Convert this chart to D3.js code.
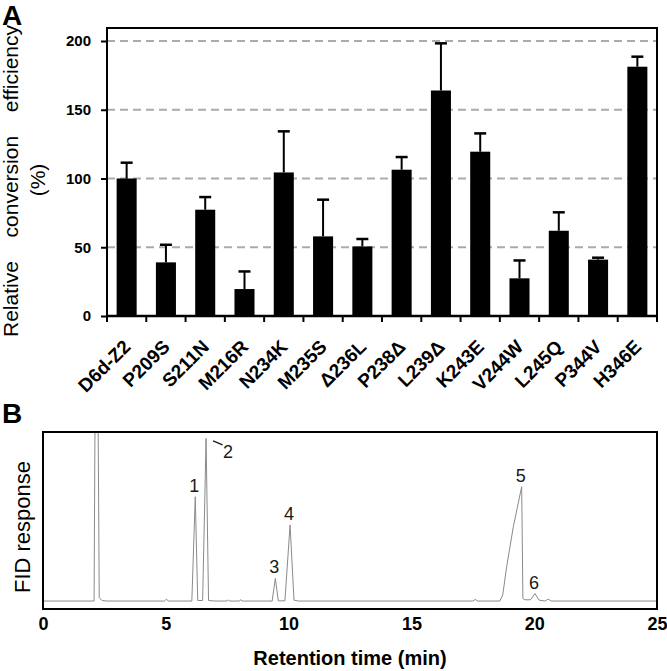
<!DOCTYPE html>
<html>
<head>
<meta charset="utf-8">
<script src="https://cdnjs.cloudflare.com/ajax/libs/d3/7.8.5/d3.min.js"></script>
<style>
body { margin: 0; background: #fff; }
svg { display: block; font-family: "Liberation Sans", Arial, Helvetica, sans-serif; }
</style>
</head>
<body>
<div id="chart"></div>
<script>
// panel A data
var mutants = ["D6d-Z2", "P209S", "S211N", "M216R", "N234K", "M235S", "\u0394236L",
               "P238\u0394", "L239\u0394", "K243E", "V244W", "L245Q", "P344V", "H346E"];
var efficiency = [100, 39, 77.3, 19.6, 104.4, 57.9, 50.6, 106.4, 164, 119.5, 27.4, 62, 41, 181.3];
var errorUp = [11.5, 12.8, 9.2, 12.8, 29.9, 26.7, 5.4, 9.2, 34.3, 13.3, 13, 13.4, 1.4, 7.3];
var yTicksA = [0, 50, 100, 150, 200];
var gridA = [50, 100, 150, 200];

// panel B data (trace)
var traceTime = [0, 2.08, 2.12, 2.24, 2.29, 2.4, 2.6, 4.95, 5.03, 5.1, 6.06, 6.2, 6.3, 6.5, 6.64, 6.74,
                 7.0, 7.5, 7.55, 7.6, 8.0, 8.05, 8.1, 9.33, 9.46, 9.58, 9.85, 10.06, 10.22, 10.4,
                 17.5, 17.6, 17.7, 18.6, 18.72, 18.88, 19.15, 19.49, 19.54, 19.62, 19.85, 20.03,
                 20.2, 20.45, 20.57, 20.7, 25];
var traceResponse = [4.5, 4.5, 115, 115, 6.5, 4.8, 4.5, 4.5, 5.6, 4.5, 4.5, 63.4, 4.8, 4.8, 96.4, 4.8,
                     4.5, 4.5, 5.2, 4.5, 4.5, 5.3, 4.5, 4.5, 17.3, 4.6, 4.6, 47.5, 5, 4.5,
                     4.5, 5.4, 4.5, 4.5, 8, 24, 46.5, 69.1, 6, 5.2, 5.2, 8.7,
                     5, 4.5, 5.6, 4.5, 4.5];
var peakLabels = ["1", "2", "3", "4", "5", "6"];
var peakTimes = [6.2, 6.64, 9.46, 10.06, 19.49, 20.03];
var xTicksB = [0, 5, 10, 15, 20, 25];

var w = 667, h = 671;

var svg = d3.select("#chart").append("svg")
  .attr("width", w)
  .attr("height", h);

// ---------- Panel A ----------
var leftA = 107, rightA = 657, topA = 28, bottomA = 316;

var xA = d3.scaleBand()
  .domain(mutants)
  .range([leftA, rightA])
  .paddingInner(0.49)
  .paddingOuter(0.245);
var yA = d3.scaleLinear()
  .domain([0, 200])
  .range([bottomA, 41]);

var gA = svg.append("g");

gA.selectAll(".grid")
  .data(gridA)
  .enter()
  .append("line")
  .attr("class", "grid")
  .attr("x1", leftA)
  .attr("x2", rightA)
  .attr("y1", function(d) { return yA(d); })
  .attr("y2", function(d) { return yA(d); })
  .attr("stroke", "#ababab")
  .attr("stroke-width", 2)
  .attr("stroke-dasharray", "8,5");

var barData = mutants.map(function(m, i) {
  return { name: m, value: efficiency[i], err: errorUp[i] };
});

gA.selectAll(".bar")
  .data(barData)
  .enter()
  .append("rect")
  .attr("class", "bar")
  .attr("x", function(d) { return xA(d.name); })
  .attr("y", function(d) { return yA(d.value); })
  .attr("width", xA.bandwidth())
  .attr("height", function(d) { return yA(0) - yA(d.value); })
  .attr("fill", "#000");

// upper error whiskers
gA.selectAll(".err")
  .data(barData)
  .enter()
  .append("line")
  .attr("class", "err")
  .attr("x1", function(d) { return xA(d.name) + xA.bandwidth() / 2; })
  .attr("x2", function(d) { return xA(d.name) + xA.bandwidth() / 2; })
  .attr("y1", function(d) { return yA(d.value); })
  .attr("y2", function(d) { return yA(d.value + d.err); })
  .attr("stroke", "#000")
  .attr("stroke-width", 2);
gA.selectAll(".cap")
  .data(barData)
  .enter()
  .append("line")
  .attr("class", "cap")
  .attr("x1", function(d) { return xA(d.name) + xA.bandwidth() / 2 - 6; })
  .attr("x2", function(d) { return xA(d.name) + xA.bandwidth() / 2 + 6; })
  .attr("y1", function(d) { return yA(d.value + d.err); })
  .attr("y2", function(d) { return yA(d.value + d.err); })
  .attr("stroke", "#000")
  .attr("stroke-width", 2.5);

// y axis
var yAxisA = d3.axisLeft(yA)
  .tickValues(yTicksA)
  .tickSize(6)
  .tickSizeOuter(0)
  .tickPadding(10);
var yAx = gA.append("g")
  .attr("transform", "translate(" + leftA + ",0)")
  .call(yAxisA);
yAx.select(".domain").remove();
yAx.selectAll("line").attr("stroke-width", 2);
yAx.selectAll("text")
  .attr("font-size", 15)
  .attr("font-weight", "bold")
  .attr("font-family", "'Liberation Sans', Arial, sans-serif");

// ticks on category boundaries
var edges = d3.range(mutants.length + 1).map(function(i) { return leftA + i * xA.step(); });
gA.selectAll(".edge")
  .data(edges)
  .enter()
  .append("line")
  .attr("class", "edge")
  .attr("x1", function(d) { return d; })
  .attr("x2", function(d) { return d; })
  .attr("y1", bottomA)
  .attr("y2", bottomA + 6)
  .attr("stroke", "#000")
  .attr("stroke-width", 2);

// frame
gA.append("path")
  .attr("d", "M" + leftA + "," + bottomA + "V" + topA + "H" + rightA + "V" + bottomA)
  .attr("fill", "none")
  .attr("stroke", "#000")
  .attr("stroke-width", 2);
gA.append("line")
  .attr("x1", leftA - 1)
  .attr("x2", rightA + 1)
  .attr("y1", bottomA)
  .attr("y2", bottomA)
  .attr("stroke", "#000")
  .attr("stroke-width", 2.5);

gA.selectAll(".xlab")
  .data(mutants)
  .enter()
  .append("text")
  .attr("class", "xlab")
  .attr("text-anchor", "end")
  .attr("font-size", 19)
  .attr("font-weight", "bold")
  .attr("transform", function(d) {
    return "translate(" + (xA(d) + xA.bandwidth() / 2 + 5) + "," + (bottomA + 32) + ")rotate(-45)";
  })
  .text(function(d) { return d; });

// y title: justified words spread over ~312px, bottom to top
var titleSpan = 312, titleStart = 337;
var titleWords = "Relative conversion efficiency".split(" ");
var yTitle = gA.append("g")
  .attr("transform", "translate(18," + titleStart + ")rotate(-90)");
var wordEls = titleWords.map(function(word) {
  return yTitle.append("text")
    .attr("font-size", 21)
    .text(word);
});
var widths = wordEls.map(function(el) { return el.node().getComputedTextLength(); });
var gap = (titleSpan - d3.sum(widths)) / (titleWords.length - 1);
var pos = 0;
wordEls.forEach(function(el, i) {
  el.attr("x", pos);
  pos += widths[i] + gap;
});

gA.append("text")
  .attr("text-anchor", "middle")
  .attr("font-size", 21)
  .attr("transform", "translate(45,180)rotate(-90)")
  .text("(%)");

svg.append("text")
  .attr("x", 2)
  .attr("y", 25)
  .attr("font-size", 28)
  .attr("font-weight", "bold")
  .text("A");

// ---------- Panel B ----------
var leftB = 43, rightB = 657, topB = 432, bottomB = 609;

var xB = d3.scaleLinear()
  .domain([0, 25])
  .range([leftB, rightB]);
var yB = d3.scaleLinear()
  .domain([0, 100])
  .range([bottomB, topB]);

var gB = svg.append("g");

gB.append("clipPath")
  .attr("id", "clipB")
  .append("rect")
  .attr("x", leftB)
  .attr("y", topB)
  .attr("width", rightB - leftB)
  .attr("height", bottomB - topB);

var trace = traceTime.map(function(t, i) { return [t, traceResponse[i]]; });

var line = d3.line()
  .x(function(d) { return xB(d[0]); })
  .y(function(d) { return yB(d[1]); });

gB.append("path")
  .datum(trace)
  .attr("clip-path", "url(#clipB)")
  .attr("d", line)
  .attr("fill", "none")
  .attr("stroke", "#8a8a8a")
  .attr("stroke-width", 1);

gB.append("rect")
  .attr("x", leftB)
  .attr("y", topB)
  .attr("width", rightB - leftB)
  .attr("height", bottomB - topB)
  .attr("fill", "none")
  .attr("stroke", "#000")
  .attr("stroke-width", 2);

var xAxisB = d3.axisBottom(xB)
  .tickValues(xTicksB)
  .tickSize(0)
  .tickPadding(8);
var xAx = gB.append("g")
  .attr("transform", "translate(0," + bottomB + ")")
  .call(xAxisB);
xAx.select(".domain").remove();
xAx.selectAll("text")
  .attr("font-size", 18)
  .attr("font-weight", "bold")
  .attr("font-family", "'Liberation Sans', Arial, sans-serif");

// peak numbers, placed at each apex of the trace
var peaks = peakLabels.map(function(lab, i) {
  var near = trace.filter(function(p) { return Math.abs(p[0] - peakTimes[i]) < 0.03; });
  return { label: lab, t: peakTimes[i], top: d3.max(near, function(p) { return p[1]; }) };
});

gB.selectAll(".peak")
  .data(peaks)
  .enter()
  .append("text")
  .attr("class", "peak")
  .attr("text-anchor", "middle")
  .attr("font-size", 18)
  .attr("fill", "#1a1a1a")
  .attr("x", function(d) { return d.label == "2" ? xB(d.t) + 22 : xB(d.t) - 1; })
  .attr("y", function(d) { return d.label == "2" ? yB(d.top) + 20 : yB(d.top) - 5; })
  .text(function(d) { return d.label; });

var p2 = peaks[1];
gB.append("line")
  .attr("x1", xB(p2.t) + 7)
  .attr("y1", yB(p2.top) + 2.5)
  .attr("x2", xB(p2.t) + 16.5)
  .attr("y2", yB(p2.top) + 6.5)
  .attr("stroke", "#1a1a1a")
  .attr("stroke-width", 1.5);

gB.append("text")
  .attr("x", (leftB + rightB) / 2)
  .attr("y", 665)
  .attr("text-anchor", "middle")
  .attr("font-size", 20)
  .attr("font-weight", "bold")
  .text("Retention time (min)");

gB.append("text")
  .attr("text-anchor", "middle")
  .attr("font-size", 22)
  .attr("transform", "translate(30,527)rotate(-90)")
  .text("FID response");

svg.append("text")
  .attr("x", 2)
  .attr("y", 423)
  .attr("font-size", 28)
  .attr("font-weight", "bold")
  .text("B");
</script>
</body>
</html>
